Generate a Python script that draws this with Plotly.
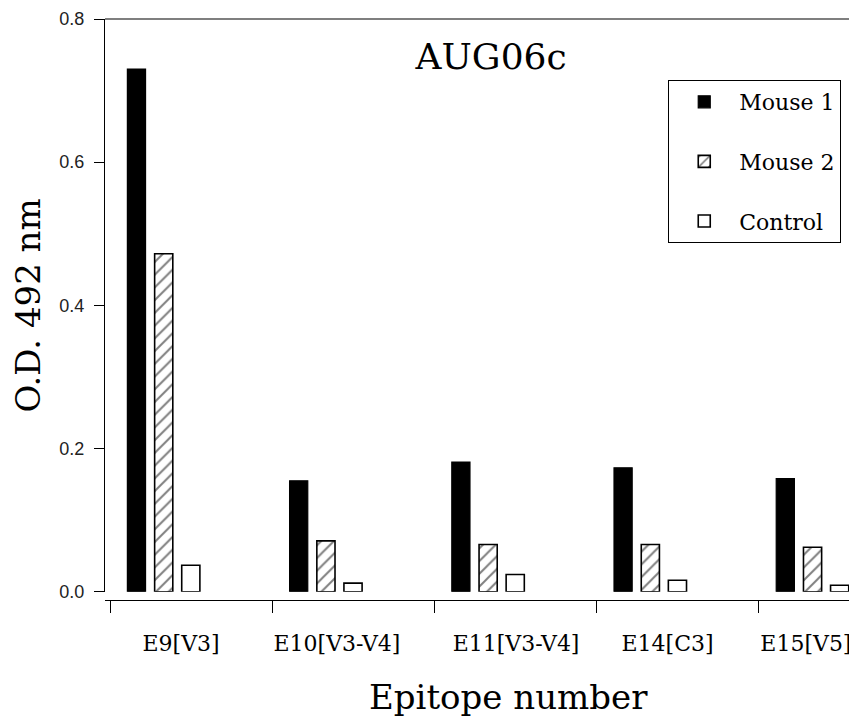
import plotly.graph_objects as go

# ---- data ----
categories = ["E9[V3]", "E10[V3-V4]", "E11[V3-V4]", "E14[C3]", "E15[V5]"]
mouse1 = [0.730, 0.155, 0.181, 0.173, 0.158]
mouse2 = [0.472, 0.071, 0.066, 0.066, 0.062]
control = [0.037, 0.012, 0.024, 0.016, 0.009]
y_tick_values = [0.0, 0.2, 0.4, 0.6, 0.8]
series_names = ["Mouse 1", "Mouse 2", "Control"]

# ---- styling / layout constants ----
SERIF = "DejaVu Serif"
SANS = "Liberation Sans"
BAR_W = 0.112
OFFSETS = [-0.393, -0.225, -0.058]
LABEL_SHIFT = [-0.062, -0.101, 0.003, -0.063, -0.21]

xpos = list(range(len(categories)))
label_pos = [i + s for i, s in zip(xpos, LABEL_SHIFT)]
boundaries = [i - 0.5 for i in xpos]

fig = go.Figure()
fig.add_trace(go.Bar(
    x=xpos, y=mouse1, name=series_names[0], offset=OFFSETS[0], width=BAR_W,
    marker=dict(color="black", line=dict(color="black", width=1.2)),
    legendgroup="g1"))
fig.add_trace(go.Bar(
    x=xpos, y=mouse2, name=series_names[1], offset=OFFSETS[1], width=BAR_W,
    marker=dict(color="white", line=dict(color="black", width=1.6),
                pattern=dict(shape="/", fgcolor="black", bgcolor="white",
                             size=9, solidity=0.22)),
    legendgroup="g2"))
fig.add_trace(go.Bar(
    x=xpos, y=control, name=series_names[2], offset=OFFSETS[2], width=BAR_W,
    marker=dict(color="white", line=dict(color="black", width=1.6)),
    legendgroup="g3"))

fig.update_layout(
    width=849, height=713,
    margin=dict(l=97, r=0, t=11, b=121),
    paper_bgcolor="white", plot_bgcolor="white",
    barmode="overlay",
    showlegend=True,
    title=dict(text="AUG06c", x=0.569, xanchor="center", y=0.9327,
               yanchor="middle", font=dict(family=SERIF, size=36, color="black")),
    legend=dict(x=0.749, y=0.895, xanchor="left", yanchor="top",
                bgcolor="white", bordercolor="black", borderwidth=1,
                font=dict(family=SERIF, size=22, color="black"),
                itemwidth=60, tracegroupgap=28, traceorder="grouped"),
    xaxis=dict(
        range=[-0.531, 4.105], anchor="free", position=0,
        showline=True, linecolor="black", linewidth=1.2,
        showgrid=False, zeroline=False,
        tickmode="array", tickvals=label_pos, ticktext=categories,
        ticks="outside", ticklen=23, tickcolor="rgba(0,0,0,0)",
        tickfont=dict(family=SERIF, size=22, color="black"),
        minor=dict(tickmode="array", tickvals=boundaries, ticks="outside",
                   ticklen=12, tickcolor="black", tickwidth=1.2, showgrid=False),
    ),
    yaxis=dict(
        range=[0, 0.8], domain=[0.0143, 1],
        showline=True, linecolor="black", linewidth=1.2,
        showgrid=False, zeroline=False,
        tickmode="array", tickvals=y_tick_values, tickformat=".1f",
        ticks="outside", ticklen=10, tickcolor="black", tickwidth=1.2,
        ticklabelstandoff=6,
        tickfont=dict(family=SANS, size=18, color="#222"),
        title=dict(text="O.D. 492 nm", standoff=11,
                   font=dict(family=SERIF, size=34, color="black")),
    ),
    shapes=[dict(type="line", xref="paper", yref="paper", x0=0, x1=1, y0=1, y1=1,
                 line=dict(color="black", width=1.2))],
    annotations=[dict(text="Epitope number", xref="paper", yref="paper",
                      x=0.537, y=-0.2048, xanchor="center", yanchor="bottom",
                      showarrow=False,
                      font=dict(family=SERIF, size=34, color="black"))],
)

fig.write_html("out.html")
